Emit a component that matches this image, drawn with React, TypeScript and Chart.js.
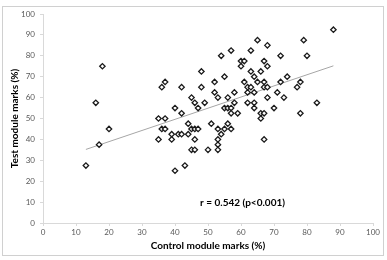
import React, { useEffect, useRef } from 'react';
import { Chart, registerables } from 'chart.js';

Chart.register(...registerables);

// Control module marks (%) for each student
const controlMarks = [
  13, 16, 17, 18, 20, 35, 35, 36, 36, 37, 37, 37, 39, 39, 40, 40, 41, 42, 42, 42,
  43, 44, 44, 45, 45, 45, 46, 46, 46, 46, 47, 47, 48, 48, 49, 50, 51, 52, 52, 53,
  53, 53, 53, 53, 54, 54, 55, 55, 55, 56, 56, 56, 57, 57, 57, 57, 58, 58, 59, 60,
  60, 61, 61, 62, 62, 62, 63, 63, 63, 64, 64, 64, 64, 65, 65, 66, 66, 66, 67, 67,
  67, 67, 67, 68, 68, 68, 68, 70, 71, 72, 72, 73, 74, 77, 78, 78, 79, 80, 83, 88,
];
// Test module marks (%) for each student (same order)
const testMarks = [
  27.5, 57.5, 37.5, 75, 45, 50, 40, 65, 45, 67.5, 50, 45, 42.5, 40, 55, 25, 42.5, 65, 52.5, 42.5,
  27.5, 47.5, 42.5, 60, 45, 35, 57.5, 45, 40, 35, 55, 45, 72.5, 65, 57.5, 35, 47.5, 67.5, 62.5, 60,
  45, 40, 37.5, 35, 80, 42.5, 70, 55, 45, 60, 55, 47.5, 82.5, 55, 52.5, 45, 62.5, 57.5, 52.5, 77.5,
  75, 77.5, 67.5, 65, 62.5, 57.5, 82.5, 72.5, 65, 70, 62.5, 57.5, 55, 87.5, 67.5, 72.5, 52.5, 50, 77.5, 67.5,
  65, 52.5, 40, 85, 75, 65, 60, 55, 62.5, 80, 67.5, 60, 70, 65, 67.5, 52.5, 87.5, 80, 57.5, 92.5,
];
// Linear trend line end points
const trendX = [13, 88];
const trendY = [35.2, 75.2];

const xTitle = 'Control module marks (%)';
const yTitle = 'Test module marks (%)';
const annotationText = 'r = 0.542 (p<0.001)';
const annotationPos = [47.6, 9.5];

const FONT = 'Lato, "Open Sans", sans-serif';

const annotationPlugin = {
  id: 'rAnnotation',
  afterDatasetsDraw(chart: any) {
    const { ctx, scales } = chart;
    const px = scales.x.getPixelForValue(annotationPos[0]);
    const py = scales.y.getPixelForValue(annotationPos[1]);
    ctx.save();
    ctx.font = `bold 10px ${FONT}`;
    ctx.fillStyle = '#000000';
    ctx.textAlign = 'left';
    ctx.textBaseline = 'middle';
    ctx.fillText(annotationText, px, py);
    ctx.restore();
  },
};

export default function App() {
  const ref = useRef<HTMLCanvasElement | null>(null);

  useEffect(() => {
    if (!ref.current) return;
    const points = controlMarks.map((x, i) => ({ x, y: testMarks[i] }));
    const trend = trendX.map((x, i) => ({ x, y: trendY[i] }));
    const chart = new Chart(ref.current, {
      type: 'scatter',
      data: {
        datasets: [
          {
            type: 'line',
            data: trend,
            borderColor: '#a6a6a6',
            borderWidth: 1,
            pointRadius: 0,
            fill: false,
            order: 2,
          } as any,
          {
            data: points,
            pointStyle: 'rectRot',
            pointRadius: 2.7,
            pointBackgroundColor: '#ffffff',
            pointBorderColor: '#1a1a1a',
            pointBorderWidth: 1.3,
            order: 1,
          },
        ],
      },
      options: {
        responsive: false,
        animation: false,
        devicePixelRatio: 1,
        layout: { padding: { left: 2, top: 14, right: 14, bottom: 4 } },
        plugins: { legend: { display: false }, tooltip: { enabled: false } },
        scales: {
          x: {
            type: 'linear',
            min: 0,
            max: 100,
            afterFit: (s: any) => { s.height = 33; },
            ticks: {
              stepSize: 10,
              autoSkip: false,
              maxRotation: 0,
              padding: 2,
              color: '#595959',
              font: { family: FONT, size: 8 },
            },
            grid: { display: true, drawOnChartArea: false, drawTicks: true, tickLength: 3, color: '#d9d9d9' },
            border: { display: true, color: '#d9d9d9', width: 1 },
            title: {
              display: true,
              text: xTitle,
              color: '#000000',
              font: { family: FONT, size: 10, weight: 'bold' },
              padding: { top: 0, bottom: 4 },
            },
          },
          y: {
            type: 'linear',
            min: 0,
            max: 100,
            afterFit: (s: any) => { s.width = 41; },
            ticks: {
              stepSize: 10,
              autoSkip: false,
              padding: 5,
              color: '#595959',
              font: { family: FONT, size: 8 },
            },
            grid: { display: true, drawOnChartArea: false, drawTicks: true, tickLength: 3, color: '#d9d9d9' },
            border: { display: true, color: '#d9d9d9', width: 1 },
            title: {
              display: true,
              text: yTitle,
              color: '#000000',
              font: { family: FONT, size: 10, weight: 'bold' },
              padding: { top: 7, bottom: 0 },
            },
          },
        },
      },
      plugins: [annotationPlugin],
    });
    return () => chart.destroy();
  }, []);

  return (
    <div style={{ position: 'absolute', left: 0, top: 0, width: 387, height: 260, background: '#ffffff' }}>
      <div
        style={{
          position: 'absolute',
          left: 2,
          top: 6,
          width: 382,
          height: 250,
          border: '1px solid #d0d0d0',
          boxSizing: 'border-box',
        }}
      />
      <canvas ref={ref} width={387} height={260} style={{ position: 'absolute', left: 0, top: 0 }} />
    </div>
  );
}
